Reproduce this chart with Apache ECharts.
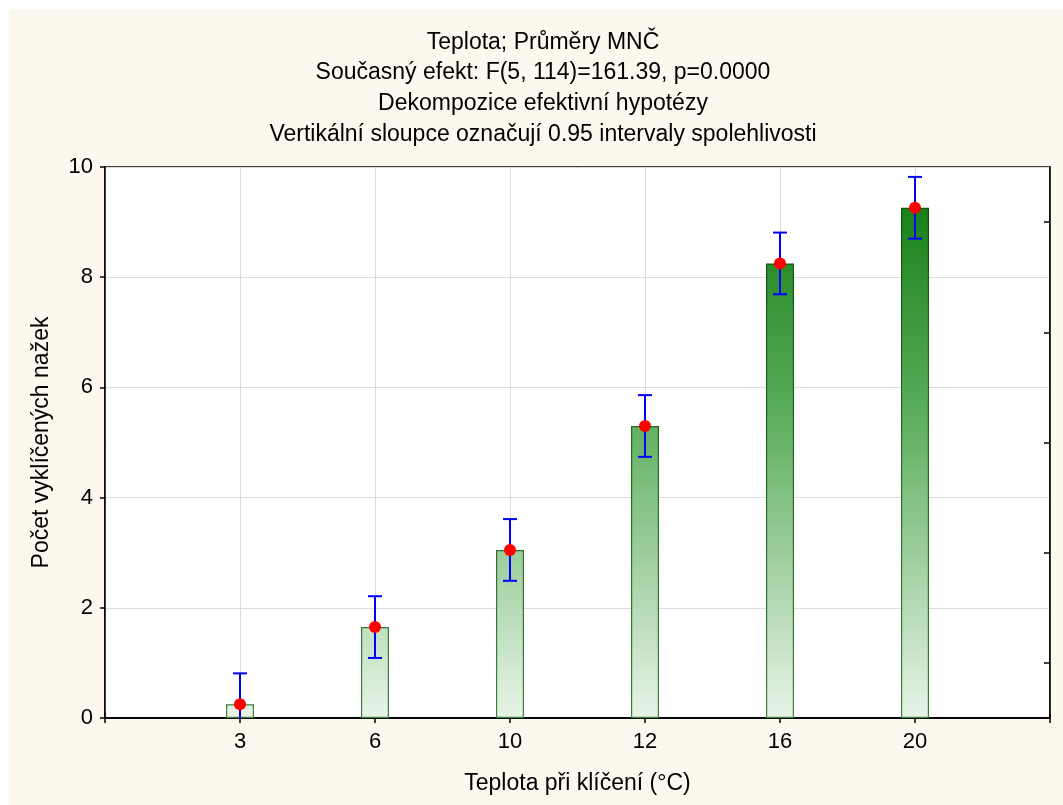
<!DOCTYPE html>
<html>
<head>
<meta charset="utf-8">
<script src="https://cdn.jsdelivr.net/npm/echarts@6/dist/echarts.min.js"></script>
<style>
  html, body { margin: 0; padding: 0; background: #ffffff; }
  #chart { position: absolute; left: 9px; top: 9px; width: 1054px; height: 796px; }
</style>
</head>
<body>
<div id="chart"></div>
<script>
// ---- data ----
const categories = ['3', '6', '10', '12', '16', '20'];
const means   = [0.25, 1.65, 3.05, 5.30, 8.25, 9.26];
const ciLower = [-0.31, 1.09, 2.49, 4.74, 7.69, 8.70];
const ciUpper = [0.81, 2.21, 3.61, 5.86, 8.81, 9.82];
const yMin = 0, yMax = 10, yInterval = 2;
const rightTicks = [1, 3, 5, 7, 9];
const titleLines = [
  'Teplota; Průměry MNČ',
  'Současný efekt: F(5, 114)=161.39, p=0.0000',
  'Dekompozice efektivní hypotézy',
  'Vertikální sloupce označují 0.95 intervaly spolehlivosti'
];
const xName = 'Teplota při klíčení (°C)';
const yName = 'Počet vyklíčených nažek';

// ---- chart ----
const FONT = 'Liberation Sans, Arial, sans-serif';
const axisData = [''].concat(categories, ['']);
const GRID = { left: 96, top: 158, width: 945, height: 551 };

const barGradient = {
  type: 'linear', global: true,
  x: 0, y: GRID.top, x2: 0, y2: GRID.top + GRID.height,
  colorStops: [
    { offset: 0, color: '#0c780c' },
    { offset: 0.45, color: '#5cae5c' },
    { offset: 1, color: '#e8f4e8' }
  ]
};
const borderGradient = {
  type: 'linear', global: true,
  x: 0, y: GRID.top, x2: 0, y2: GRID.top + GRID.height,
  colorStops: [
    { offset: 0, color: '#0a4f0a' },
    { offset: 1, color: '#3f7f3f' }
  ]
};

const chart = echarts.init(document.getElementById('chart'), null, { renderer: 'canvas' });
chart.setOption({
  backgroundColor: '#fdf8ee',
  animation: false,
  textStyle: { fontFamily: FONT },
  title: {
    text: titleLines.join('\n'),
    left: 529, top: 13,
    textAlign: 'center',
    textStyle: { fontFamily: FONT, fontSize: 23, fontWeight: 'normal', color: '#000', lineHeight: 30.7 }
  },
  grid: Object.assign({ show: true, backgroundColor: '#ffffff', borderColor: '#000', borderWidth: 1.5, containLabel: false }, GRID),
  xAxis: [
    {
      type: 'category', data: axisData, boundaryGap: false, position: 'bottom',
      name: xName, nameLocation: 'middle', nameGap: 54,
      nameTextStyle: { fontFamily: FONT, fontSize: 23, color: '#000' },
      axisLine: { lineStyle: { color: '#000', width: 1.5 } },
      axisTick: { inside: true, length: 5, lineStyle: { color: '#000', width: 1.5 } },
      axisLabel: { fontFamily: FONT, fontSize: 22, color: '#000', margin: 13, interval: 0 },
      splitLine: { show: true, lineStyle: { color: '#dcdcdc', width: 1 } }
    },
    {
      type: 'category', data: axisData, boundaryGap: false, position: 'top',
      axisLine: { lineStyle: { color: '#000', width: 1.5 } },
      axisTick: { inside: true, length: 5, lineStyle: { color: '#000', width: 1.5 } },
      axisLabel: { show: false },
      splitLine: { show: false }
    }
  ],
  yAxis: [
    {
      type: 'value', min: yMin, max: yMax, interval: yInterval, position: 'left',
      name: yName, nameLocation: 'middle', nameGap: 52, nameRotate: 90,
      nameTextStyle: { fontFamily: FONT, fontSize: 23, color: '#000' },
      axisLine: { show: true, lineStyle: { color: '#000', width: 1.5 } },
      axisTick: { show: true, inside: false, length: 5, lineStyle: { color: '#000', width: 1.5 } },
      axisLabel: { fontFamily: FONT, fontSize: 22, color: '#000', margin: 12 },
      splitLine: { show: true, lineStyle: { color: '#dcdcdc', width: 1 } }
    },
    {
      type: 'value', min: yMin, max: yMax, position: 'right',
      axisLine: { show: true, lineStyle: { color: '#000', width: 1.5 } },
      axisTick: { show: true, inside: true, length: 6, customValues: rightTicks, lineStyle: { color: '#000', width: 1.5 } },
      axisLabel: { show: false },
      splitLine: { show: false }
    }
  ],
  series: [
    {
      type: 'bar', xAxisIndex: 0, yAxisIndex: 0,
      barWidth: 28,
      data: categories.map((c, i) => [c, means[i]]),
      itemStyle: { color: barGradient, borderColor: borderGradient, borderWidth: 1.2 },
      z: 2
    },
    {
      type: 'custom', xAxisIndex: 0, yAxisIndex: 0,
      clip: true,
      data: categories.map((c, i) => [c, ciLower[i], ciUpper[i]]),
      encode: { x: 0, y: [1, 2] },
      renderItem: function (params, api) {
        const x = api.value(0);
        const lo = api.coord([x, api.value(1)]);
        const hi = api.coord([x, api.value(2)]);
        const half = 7;
        const style = { stroke: '#0000ff', lineWidth: 2 };
        return {
          type: 'group',
          children: [
            { type: 'line', shape: { x1: lo[0], y1: lo[1], x2: hi[0], y2: hi[1] }, style: style },
            { type: 'line', shape: { x1: hi[0] - half, y1: hi[1], x2: hi[0] + half, y2: hi[1] }, style: style },
            { type: 'line', shape: { x1: lo[0] - half, y1: lo[1], x2: lo[0] + half, y2: lo[1] }, style: style }
          ]
        };
      },
      z: 3
    },
    {
      type: 'scatter', xAxisIndex: 0, yAxisIndex: 0,
      data: categories.map((c, i) => [c, means[i]]),
      symbol: 'circle', symbolSize: 12,
      itemStyle: { color: '#ff0000', opacity: 1 },
      z: 4
    }
  ]
});
</script>
</body>
</html>
